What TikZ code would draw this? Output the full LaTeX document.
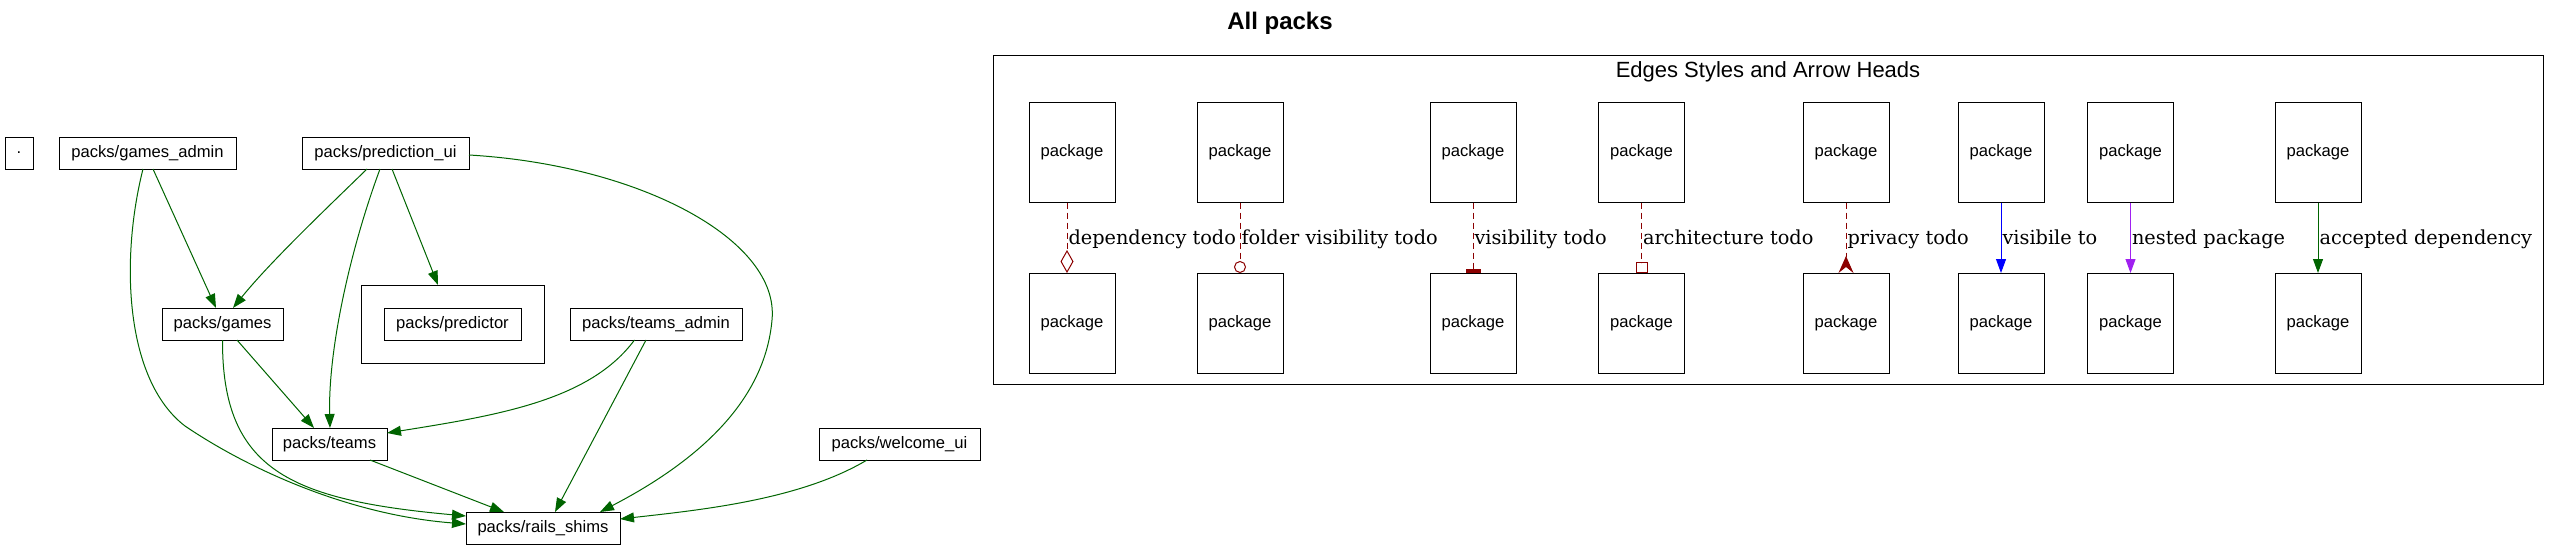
\documentclass[tikz,border=0pt]{standalone}
\usepackage{fontspec}
\setmainfont{Liberation Sans}
\newfontfamily\lblfont{DejaVu Serif}
\usepackage{tikz}
\usetikzlibrary{arrows.meta}

\definecolor{darkgreen}{RGB}{0,100,0}
\definecolor{darkred}{RGB}{139,0,0}
\definecolor{gvpurple}{RGB}{160,32,240}

\tikzset{
  pack/.style={draw, line width=1pt, inner sep=0pt, outer sep=0pt,
       minimum height=32pt, font=\fontsize{16.6}{20}\selectfont},
  legendbox/.style={pack, minimum width=86pt, minimum height=100pt},
  dep/.style={color=darkgreen, line width=1pt,
       -{Triangle[length=14pt,width=10pt]}},
  todo/.style={color=darkred, line width=1pt, dash pattern=on 6pt off 4pt},
  edgelabel/.style={anchor=base west, inner sep=0pt, yshift=-7pt, xshift=1pt,
       color=black, font=\lblfont\fontsize{19.3}{23}\selectfont}
}

\begin{document}
\begin{tikzpicture}[x=1pt, y=-1pt]

\useasboundingbox (0,0) rectangle (2560,546);

\node[font=\bfseries\fontsize{24}{28}\selectfont] (title) at (1280,23) {All packs};

\node[pack, minimum width=28pt] (root) at (19,153) {.};
\node[pack, minimum width=177pt] (gamesadmin) at (147.5,153) {packs/games\_admin};
\node[pack, minimum width=167pt] (predictionui) at (385.5,153) {packs/prediction\_ui};
\node[pack, minimum width=121pt] (games) at (222.5,324) {packs/games};
\node[draw, line width=1pt, outer sep=0pt, minimum width=183pt,
      minimum height=78pt] (predcluster) at (452.5,324) {};
\node[pack, minimum width=137pt] (predictor) at (452.5,324) {packs/predictor};
\node[pack, minimum width=172pt] (teamsadmin) at (656,324) {packs/teams\_admin};
\node[pack, minimum width=115pt] (teams) at (329.5,444) {packs/teams};
\node[pack, minimum width=161pt] (welcomeui) at (899.5,444) {packs/welcome\_ui};
\node[pack, minimum width=154pt] (railsshims) at (543,528) {packs/rails\_shims};

\draw[dep] ([xshift=5.5pt]gamesadmin.south) -- ([xshift=-6.5pt]games.north);
\draw[dep] ([xshift=-4.5pt]gamesadmin.south) .. controls (120,260) and (125,380) ..
  (185,426) .. controls (250,470) and (350,515) .. ([yshift=4pt]railsshims.west);
\draw[dep] ([xshift=-18.5pt]predictionui.south) .. controls (330,205) and (270,262) ..
  ([xshift=10.5pt]games.north);
\draw[dep] ([xshift=-5.5pt]predictionui.south) .. controls (350,250) and (328,350) ..
  ([xshift=0.5pt]teams.north);
\draw[dep] ([xshift=6.5pt]predictionui.south) -- ([xshift=-14.5pt]predcluster.north);
\draw[dep] ([yshift=-2pt]predictionui.east) .. controls (640,165) and (780,240) ..
  (772,320) .. controls (765,400) and (700,460) .. ([xshift=57pt]railsshims.north);
\draw[dep] ([xshift=14.5pt]games.south) -- ([xshift=-15.5pt]teams.north);
\draw[dep] (games.south) .. controls (222,470) and (290,500) ..
  ([yshift=12pt]railsshims.west);
\draw[dep] ([xshift=-21.5pt]teamsadmin.south) .. controls (590,400) and (500,415) ..
  ([yshift=11pt]teams.east);
\draw[dep] ([xshift=-10pt]teamsadmin.south) -- ([xshift=12pt]railsshims.north);
\draw[dep] ([xshift=40.5pt]teams.south) -- ([xshift=-39pt]railsshims.north);
\draw[dep] ([xshift=-32.5pt]welcomeui.south) .. controls (800,500) and (700,510) ..
  ([yshift=9pt]railsshims.east);

\node[draw, line width=1pt, minimum width=1550pt, minimum height=329pt]
  (legend) at (1768,219.5) {};
\node[font=\fontsize{22}{26}\selectfont] (legendtitle) at (1768,72)
  {Edges Styles and Arrow Heads};

\foreach \i/\x in {1/1072,2/1240,3/1473,4/1641.5,5/1846,6/2001,7/2130.5,8/2318} {
  \node[legendbox] (top\i) at (\x,152.5) {package};
  \node[legendbox] (bot\i) at (\x,323) {package};
}

\draw[todo, -{Diamond[open,length=23pt,width=13pt]}] ([xshift=-5pt]top1.south) --
  ([xshift=-5pt]bot1.north) node[edgelabel, pos=0.5] {dependency todo};
\draw[todo, -{Circle[open,length=12pt]}] (top2) -- (bot2)
  node[edgelabel, pos=0.5] {folder visibility todo};
\draw[todo, -{Rectangle[length=4pt,width=15pt]}] (top3) -- (bot3)
  node[edgelabel, pos=0.5] {visibility todo};
\draw[todo, -{Rectangle[open,length=11pt,width=12pt]}] (top4) -- (bot4)
  node[edgelabel, pos=0.5] {architecture todo};
\draw[todo, -{Stealth[reversed,length=17pt,width=15pt,inset=6pt]}] (top5) -- (bot5)
  node[edgelabel, pos=0.5] {privacy todo};
\draw[color=blue, line width=1pt, -{Triangle[length=14pt,width=10pt]}] (top6) -- (bot6)
  node[edgelabel, pos=0.5] {visibile to};
\draw[color=gvpurple, line width=1pt, -{Triangle[length=14pt,width=10pt]}] (top7) -- (bot7)
  node[edgelabel, pos=0.5] {nested package};
\draw[dep] (top8) -- (bot8)
  node[edgelabel, pos=0.5] {accepted dependency};

\end{tikzpicture}
\end{document}
